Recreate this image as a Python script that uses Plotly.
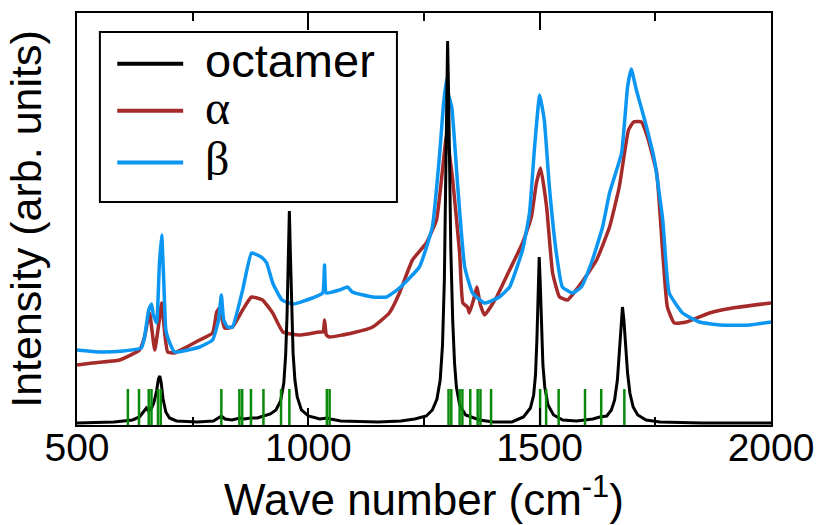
import plotly.graph_objects as go

# ---- measured spectra (wave number in cm^-1, intensity in arb. units) ----
oct_wn = [500, 580, 620, 635, 645, 650, 655, 660, 666, 672, 676, 679, 682, 686, 692, 700,
          715, 760, 795, 805, 812, 820, 835, 852, 862, 876, 890, 903, 918, 930, 940, 947,
          951, 954, 957, 959, 961, 964, 967, 971, 976, 985, 1000, 1025, 1040, 1048, 1070,
          1150, 1200, 1230, 1255, 1268, 1278, 1285, 1290, 1294, 1297, 1299, 1301, 1303,
          1305, 1308, 1312, 1316, 1320, 1327, 1340, 1370, 1400, 1440, 1465, 1480, 1487,
          1491, 1494, 1497, 1499, 1501, 1504, 1507, 1511, 1518, 1530, 1550, 1580, 1615,
          1630, 1645, 1655, 1662, 1668, 1672, 1676, 1679, 1682, 1686, 1690, 1695, 1702,
          1712, 1730, 1760, 1850, 2000]
oct_int = [0.02, 0.03, 0.05, 0.08, 0.14, 0.17, 0.14, 0.16, 0.22, 0.34, 0.46, 0.49, 0.42,
           0.26, 0.13, 0.07, 0.04, 0.03, 0.04, 0.07, 0.09, 0.06, 0.05, 0.07, 0.06, 0.07,
           0.07, 0.09, 0.11, 0.15, 0.24, 0.42, 0.70, 1.10, 1.70, 2.14, 1.75, 1.15, 0.72,
           0.45, 0.28, 0.15, 0.09, 0.06, 0.07, 0.06, 0.04, 0.03, 0.04, 0.06, 0.09, 0.15,
           0.26, 0.45, 0.80, 1.45, 2.30, 3.20, 3.84, 3.35, 2.60, 1.75, 1.05, 0.62, 0.38,
           0.20, 0.10, 0.05, 0.03, 0.03, 0.08, 0.17, 0.30, 0.50, 0.85, 1.35, 1.68, 1.45,
           0.95, 0.60, 0.38, 0.20, 0.10, 0.05, 0.04, 0.06, 0.08, 0.09, 0.15, 0.25, 0.45,
           0.72, 1.02, 1.18, 1.05, 0.78, 0.52, 0.32, 0.18, 0.10, 0.05, 0.03, 0.02, 0.02]

alpha_wn = [500, 533, 592, 635, 646, 652, 657, 662, 668, 678, 683, 690, 696, 711, 737, 765,
            793, 802, 808, 819, 836, 858, 877, 901, 923, 945, 981, 1024, 1032, 1035, 1039,
            1046, 1095, 1139, 1175, 1197, 1225, 1255, 1277, 1290, 1299, 1312, 1327, 1334,
            1344, 1348, 1357, 1364, 1372, 1381, 1407, 1435, 1463, 1482, 1493, 1502, 1515,
            1528, 1543, 1560, 1590, 1623, 1651, 1672, 1692, 1703, 1720, 1733, 1753, 1766,
            1776, 1791, 1817, 1867, 1917, 2000]
alpha_int = [0.60, 0.62, 0.65, 0.75, 0.88, 1.02, 1.12, 0.95, 0.75, 1.05, 1.22, 0.90, 0.73,
             0.72, 0.78, 0.85, 0.92, 1.13, 1.17, 0.97, 0.98, 1.15, 1.28, 1.25, 1.12, 0.93,
             0.90, 0.93, 0.93, 1.05, 0.90, 0.88, 0.92, 0.98, 1.12, 1.32, 1.65, 1.82, 2.05,
             2.55, 2.90, 2.45, 1.72, 1.22, 1.18, 1.12, 1.25, 1.38, 1.20, 1.10, 1.28, 1.55,
             1.82, 2.08, 2.42, 2.57, 2.18, 1.52, 1.28, 1.25, 1.42, 1.65, 1.98, 2.38, 2.95,
             3.03, 3.03, 2.88, 2.52, 1.72, 1.18, 1.02, 1.03, 1.12, 1.17, 1.22]

beta_wn = [500, 549, 600, 639, 646, 655, 661, 665, 672, 678, 683, 687, 692, 698, 711, 765,
           793, 806, 812, 817, 825, 836, 858, 877, 890, 901, 910, 923, 943, 967, 1009, 1031,
           1035, 1039, 1067, 1085, 1095, 1139, 1169, 1197, 1240, 1268, 1284, 1292, 1299,
           1303, 1310, 1323, 1338, 1355, 1381, 1413, 1435, 1463, 1478, 1489, 1500, 1510,
           1521, 1536, 1549, 1571, 1590, 1614, 1636, 1651, 1677, 1690, 1698, 1709, 1727,
           1748, 1766, 1780, 1809, 1845, 1889, 1954, 2000]
beta_int = [0.75, 0.73, 0.74, 0.77, 0.88, 1.15, 1.21, 1.10, 1.02, 1.60, 1.90, 1.50, 0.95,
            0.85, 0.73, 0.78, 0.85, 1.05, 1.30, 1.05, 0.98, 0.98, 1.35, 1.72, 1.70, 1.67,
            1.62, 1.42, 1.25, 1.21, 1.27, 1.32, 1.60, 1.32, 1.35, 1.38, 1.33, 1.28, 1.28,
            1.37, 1.58, 1.98, 2.72, 3.20, 3.47, 3.30, 3.18, 2.38, 1.58, 1.32, 1.22, 1.28,
            1.38, 1.75, 2.12, 2.78, 3.30, 3.05, 2.38, 1.72, 1.38, 1.32, 1.38, 1.65, 1.98,
            2.32, 2.72, 3.38, 3.56, 3.35, 3.05, 2.65, 2.05, 1.32, 1.12, 1.03, 1.00, 1.00,
            1.03]

# calculated normal-mode frequencies, drawn as sticks
stick_freqs = [610, 634, 655, 661, 675, 681, 812, 851, 857, 876, 903, 941, 959, 1040, 1046,
               1303, 1309, 1327, 1333, 1350, 1366, 1372, 1395, 1501, 1514, 1541, 1598,
               1633, 1683]
stick_height = 0.36

x_ticks = [500, 1000, 1500, 2000]

series_names = ["octamer", "α", "β"]
series_colors = ["black", "#a52a2a", "#0b96f2"]

sans = "Liberation Sans, Arial, Helvetica, sans-serif"
serif = "Liberation Serif, Times New Roman, serif"

fig = go.Figure()

fig.add_trace(go.Scatter(x=alpha_wn, y=alpha_int, mode="lines", name=series_names[1],
                         line=dict(color=series_colors[1], width=3.5, shape="spline", smoothing=0.4)))
fig.add_trace(go.Scatter(x=beta_wn, y=beta_int, mode="lines", name=series_names[2],
                         line=dict(color=series_colors[2], width=3.5, shape="spline", smoothing=0.4)))
fig.add_trace(go.Scatter(x=oct_wn, y=oct_int, mode="lines", name=series_names[0],
                         line=dict(color=series_colors[0], width=3)))

stick_x, stick_y = [], []
for f in stick_freqs:
    stick_x += [f, f, None]
    stick_y += [0, stick_height, None]
fig.add_trace(go.Scatter(x=stick_x, y=stick_y, mode="lines", name="modes",
                         line=dict(color="#0a8a0a", width=2.5), hoverinfo="skip"))

# legend box drawn in paper coordinates over the plot area
fig.add_shape(type="rect", xref="paper", yref="paper", x0=0.033, x1=0.461, y0=0.541, y1=0.954,
              fillcolor="white", line=dict(color="black", width=2), layer="above")
legend_rows = [0.877, 0.763, 0.637]
legend_fonts = [dict(family=sans, size=47, color="black"),
                dict(family=serif, size=48, color="black"),
                dict(family=serif, size=48, color="black")]
for name, color, yrow, fnt in zip(series_names, series_colors, legend_rows, legend_fonts):
    fig.add_shape(type="line", xref="paper", yref="paper", x0=0.058, x1=0.153, y0=yrow, y1=yrow,
                  line=dict(color=color, width=4), layer="above")
    fig.add_annotation(text=name, xref="paper", yref="paper", x=0.182, y=yrow + 0.01,
                       xanchor="left", yanchor="middle", showarrow=False, font=fnt,
                       height=44, valign="middle")

fig.update_layout(
    template="none",
    width=816, height=525,
    margin=dict(l=77, r=45, t=13, b=100, autoexpand=False),
    paper_bgcolor="white", plot_bgcolor="white",
    font=dict(family=sans, color="black"),
    showlegend=False,
    xaxis=dict(
        range=[500, 2000], tickvals=x_ticks, ticktext=[str(t) for t in x_ticks],
        ticks="inside", ticklen=17, tickwidth=2, tickcolor="black",
        minor=dict(dtick=250, tick0=500, ticks="inside", ticklen=8, tickwidth=2, tickcolor="black"),
        showline=True, linecolor="black", linewidth=2, mirror="allticks",
        showgrid=False, zeroline=False, automargin=False,
        tickfont=dict(family=sans, size=39), ticklabelstandoff=-13,
        title=dict(text="Wave number (cm<sup>-1</sup>)", font=dict(family=sans, size=44), standoff=3),
    ),
    yaxis=dict(
        range=[0, 4.12], showticklabels=False, ticks="",
        showline=True, linecolor="black", linewidth=2, mirror=True,
        showgrid=False, zeroline=False, automargin=False,
        title=dict(text="Intensity (arb. units)", font=dict(family=sans, size=43), standoff=20),
    ),
)

fig.write_html("out.html")
